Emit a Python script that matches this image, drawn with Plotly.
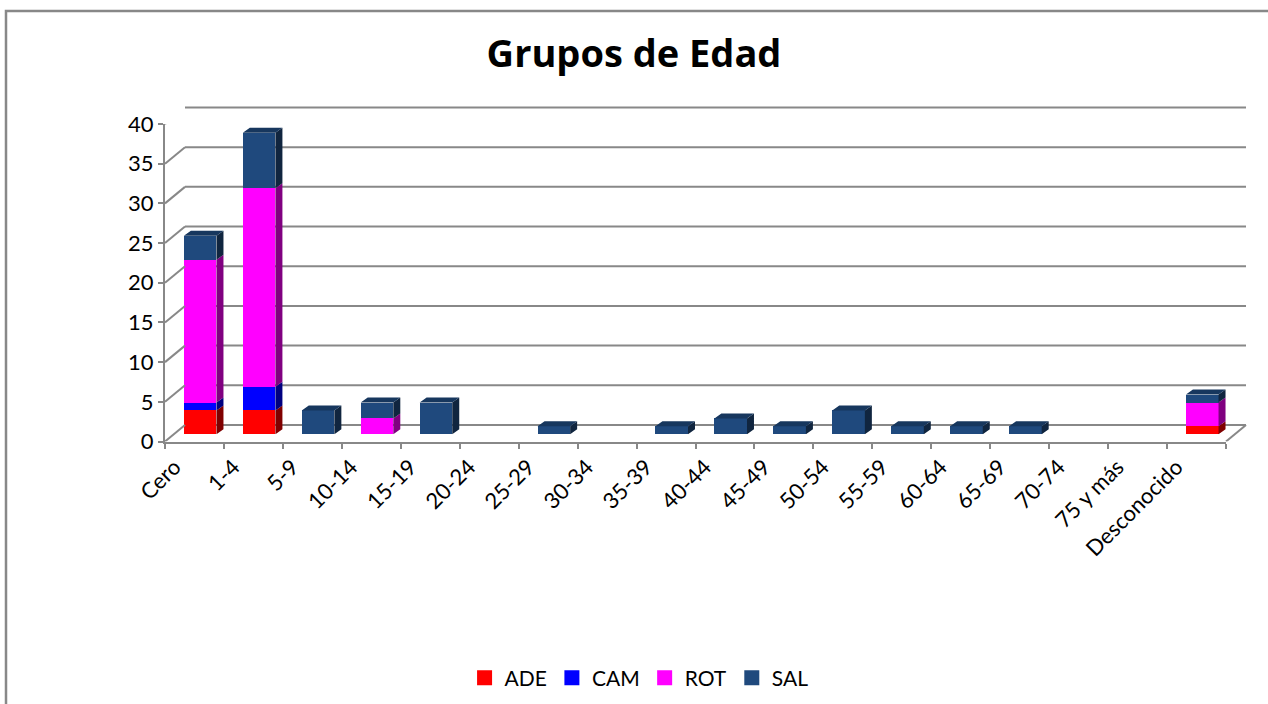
import plotly.graph_objects as go

# ---------------- data ----------------
categories = ["Cero", "1-4", "5-9", "10-14", "15-19", "20-24", "25-29", "30-34",
              "35-39", "40-44", "45-49", "50-54", "55-59", "60-64", "65-69",
              "70-74", "75 y más", "Desconocido"]
ADE = [3, 3, 0, 0, 0, 0, 0, 0, 0, 0, 0, 0, 0, 0, 0, 0, 0, 1]
CAM = [1, 3, 0, 0, 0, 0, 0, 0, 0, 0, 0, 0, 0, 0, 0, 0, 0, 0]
ROT = [18, 25, 0, 2, 0, 0, 0, 0, 0, 0, 0, 0, 0, 0, 0, 0, 0, 3]
SAL = [3, 7, 3, 2, 4, 0, 1, 0, 1, 2, 1, 3, 1, 1, 1, 0, 0, 1]
y_ticks = [0, 5, 10, 15, 20, 25, 30, 35, 40]

series_names = ["ADE", "CAM", "ROT", "SAL"]
series_values = [ADE, CAM, ROT, SAL]
front_colors = ["#FF0000", "#0000FF", "#FF00FF", "#1F497D"]
side_colors = ["#800000", "#000080", "#800080", "#10253F"]
top_colors = ["#FF3030", "#3030FF", "#FF30FF", "#17375E"]

# ---------------- geometry helpers ----------------
W, H = 1268, 704
FONT = "Lato, Carlito, Calibri, sans-serif"
TITLE_FONT = "'Open Sans', Lato, sans-serif"
GRID = "#888888"


def px(x):
    return x / W


def py(y):
    return 1 - y / H


N = len(categories)
BAR_W = 0.553          # bar width in category units
DX = 7 / 58.94         # depth offset (category units)
DY = 5 / 7.94          # depth offset (value units)
PAD = 0.5              # range pad so edge gridlines are not clipped
UNIT_PX = 317.5 / 40

fig = go.Figure()

# invisible traces so the front and back axes render
fig.add_trace(go.Scatter(x=categories, y=[0] * N, mode="markers",
                         marker=dict(opacity=0), showlegend=False,
                         hoverinfo="skip", xaxis="x", yaxis="y"))
fig.add_trace(go.Scatter(x=[0], y=[0], mode="markers", marker=dict(opacity=0),
                         showlegend=False, hoverinfo="skip",
                         xaxis="x2", yaxis="y2"))

idx = list(range(N))

# front faces: stacked bars
for name, vals, col in zip(series_names, series_values, front_colors):
    fig.add_trace(go.Bar(x=idx, y=vals, name=name, width=BAR_W,
                         marker=dict(color=col, line=dict(width=0)),
                         xaxis="x3", yaxis="y3", hovertext=categories,
                         showlegend=False, legendgroup=name))

# side and top faces derived from the same data
bases = [0] * N
tops_owner = [None] * N
for si, vals in enumerate(series_values):
    for k, v in enumerate(vals):
        if v > 0:
            tops_owner[k] = si

side_x = {i: [] for i in range(4)}
side_y = {i: [] for i in range(4)}
top_x = {i: [] for i in range(4)}
top_y = {i: [] for i in range(4)}
for si, vals in enumerate(series_values):
    for k, v in enumerate(vals):
        if v <= 0:
            continue
        y0 = bases[k]
        y1 = y0 + v
        xl = k - BAR_W / 2
        xr = k + BAR_W / 2
        side_x[si] += [xr, xr + DX, xr + DX, xr, xr, None]
        side_y[si] += [y0, y0 + DY, y1 + DY, y1, y0, None]
        if tops_owner[k] == si:
            top_x[si] += [xl, xl + DX, xr + DX, xr, xl, None]
            top_y[si] += [y1, y1 + DY, y1 + DY, y1, y1, None]
        bases[k] = y1

for si in range(4):
    if side_x[si]:
        fig.add_trace(go.Scatter(x=side_x[si], y=side_y[si], mode="lines",
                                 fill="toself", fillcolor=side_colors[si],
                                 line=dict(width=0, color=side_colors[si]),
                                 showlegend=False, hoverinfo="skip",
                                 xaxis="x3", yaxis="y3"))
    if top_x[si]:
        fig.add_trace(go.Scatter(x=top_x[si], y=top_y[si], mode="lines",
                                 fill="toself", fillcolor=top_colors[si],
                                 line=dict(width=0, color=top_colors[si]),
                                 showlegend=False, hoverinfo="skip",
                                 xaxis="x3", yaxis="y3"))

# legend entries (square swatches)
for name, col in zip(series_names, front_colors):
    fig.add_trace(go.Scatter(x=[None], y=[None], mode="markers", name=name,
                             marker=dict(symbol="square", size=15, color=col),
                             legendgroup=name, xaxis="x3", yaxis="y3"))

# ---------------- decorations: back wall grid, connectors & border ----------------
shapes = []
for v in y_ticks:
    # back wall gridline
    shapes.append(dict(type="line", xref="x2 domain", x0=0, x1=1,
                       yref="y2", y0=v, y1=v, layer="below",
                       line=dict(color=GRID, width=2)))
    # connector from the front axis tick to the back wall
    shapes.append(dict(type="line", xref="x domain", xsizemode="pixel",
                       xanchor=0, x0=0, x1=20,
                       yref="y", ysizemode="pixel", yanchor=v, y0=0, y1=16.5,
                       line=dict(color=GRID, width=2)))
shapes.append(dict(type="line", xref="x domain", xsizemode="pixel",
                   xanchor=1, x0=0, x1=20,
                   yref="y", ysizemode="pixel", yanchor=0, y0=0, y1=16.5,
                   line=dict(color=GRID, width=2)))
shapes.append(dict(type="rect", xref="paper", yref="paper",
                   x0=px(6), x1=1.01, y0=-0.01, y1=py(11),
                   line=dict(color=GRID, width=2.5)))

fig.update_layout(
    width=W, height=H,
    margin=dict(l=0, r=0, t=0, b=0, autoexpand=False),
    paper_bgcolor="white",
    plot_bgcolor="rgba(0,0,0,0)",
    barmode="stack",
    font=dict(family=FONT, size=22, color="black"),
    title=dict(text="<b>Grupos de Edad</b>", x=0.5, xanchor="center",
               y=py(54), yanchor="middle",
               font=dict(family=TITLE_FONT, size=38, color="black")),
    showlegend=True,
    legend=dict(orientation="h", x=0.504, xanchor="center",
                y=py(678), yanchor="middle",
                font=dict(family=FONT, size=21, color="black"),
                traceorder="normal", itemclick=False, itemdoubleclick=False),
    xaxis=dict(domain=[px(165), px(1226)], anchor="y", type="category",
               categoryorder="array", categoryarray=categories,
               range=[-0.5, N - 0.5], automargin=False,
               tickson="boundaries", ticks="outside", ticklen=5, tickwidth=2,
               tickcolor=GRID, showline=True, linecolor=GRID, linewidth=2,
               tickangle=-45, ticklabelshift=-20, ticklabelstandoff=2,
               showgrid=False, zeroline=False,
               tickfont=dict(family=FONT, size=22, color="black"),
               fixedrange=True),
    yaxis=dict(domain=[py(441.5), py(124)], anchor="x", range=[0, 40],
               automargin=False,
               tickmode="array", tickvals=y_ticks, ticks="outside", ticklen=5,
               tickwidth=2, tickcolor=GRID, showline=True, linecolor=GRID,
               linewidth=2, showgrid=False, zeroline=False,
               tickfont=dict(family=FONT, size=22, color="black"),
               fixedrange=True),
    xaxis2=dict(domain=[px(185), px(1246)], anchor="y2", range=[0, 1],
                visible=False, fixedrange=True, automargin=False),
    yaxis2=dict(domain=[py(425 + PAD * UNIT_PX), py(107.5 - PAD * UNIT_PX)],
                anchor="x2", range=[-PAD, 40 + PAD],
                visible=False, showgrid=False, zeroline=False,
                fixedrange=True, automargin=False),
    xaxis3=dict(domain=[px(170.7), px(1231.7)], anchor="y3",
                range=[-0.5, N - 0.5], visible=False, fixedrange=True,
                automargin=False),
    yaxis3=dict(domain=[py(434.3), py(116.8)], anchor="x3", range=[0, 40],
                visible=False, fixedrange=True, automargin=False),
    shapes=shapes,
)

fig.write_html("out.html", config={"displayModeBar": False},
               post_script="document.body.style.margin='0';")
